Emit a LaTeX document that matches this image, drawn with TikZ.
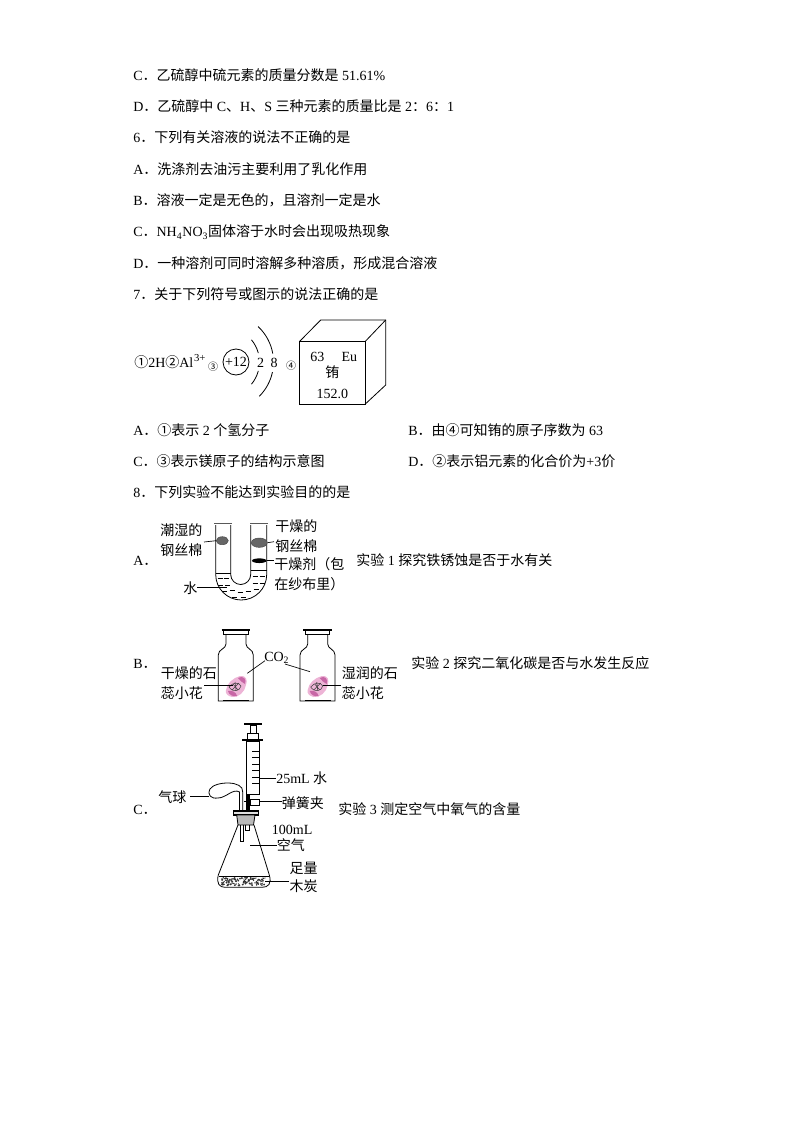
\documentclass[tikz,border=0pt]{standalone}
\usepackage{fontspec}
\setmainfont{Liberation Serif}
\newfontfamily\cjk{Noto Sans CJK SC}
\newcommand{\zh}[1]{{\cjk #1}}
\usetikzlibrary{shapes.geometric}
\definecolor{flowerpink}{HTML}{EDB4D6}
\definecolor{flowerdeep}{HTML}{C767A6}
\tikzset{
	txt/.style={anchor=base west,inner sep=0pt,font=\fontsize{10.5}{12}\selectfont},
	mid/.style={anchor=base,inner sep=0pt,font=\fontsize{10.5}{12}\selectfont},
	tiny/.style={anchor=center,inner sep=0pt,font=\fontsize{7.5}{8}\selectfont},
	leader/.style={draw=black,line width=0.5pt},
	glass/.style={draw=black,line width=0.6pt},
	lip/.style={line width=1.2pt,draw=gray!70!black},
	wool/.style={ellipse,fill=gray!80!black,draw=gray!60!black,inner sep=0pt}
}
\begin{document}
\begin{tikzpicture}[x=0.75pt,y=-0.75pt]
	\useasboundingbox (0,0) rectangle (794,1123);
	% text of the page
	\foreach \y/\nm/\txt in {
		81/lineC/{C\zh{．乙硫醇中硫元素的质量分数是} 51.61\%},
		112/lineD/{D\zh{．乙硫醇中} C\zh{、}H\zh{、}S \zh{三种元素的质量比是} 2\zh{：}6\zh{：}1},
		143/qsix/{6\zh{．下列有关溶液的说法不正确的是}},
		175/sixA/{A\zh{．洗涤剂去油污主要利用了乳化作用}},
		206/sixB/{B\zh{．溶液一定是无色的，且溶剂一定是水}},
		237/sixC/{C\zh{．}NH\textsubscript{4}NO\textsubscript{3}\zh{固体溶于水时会出现吸热现象}},
		268/sixD/{D\zh{．一种溶剂可同时溶解多种溶质，形成混合溶液}},
		299/qseven/{7\zh{．关于下列符号或图示的说法正确的是}},
		435/sevenA/{A\zh{．①表示} 2 \zh{个氢分子}},
		466/sevenC/{C\zh{．③表示镁原子的结构示意图}},
		497/qeight/{8\zh{．下列实验不能达到实验目的的是}},
		565/eightA/{A\zh{．}},
		668/eightB/{B\zh{．}},
		814/eightC/{C\zh{．}}}
	{
	\node[txt] (\nm) at (133,\y) {\txt};
	}
	\node[txt] (sevenB) at (408,435) {B\zh{．由④可知铕的原子序数为} 63};
	\node[txt] (sevenD) at (408,466) {D\zh{．②表示铝元素的化合价为}+3\zh{价}};
	\node[txt] (expone) at (356,565) {\zh{实验} 1 \zh{探究铁锈蚀是否于水有关}};
	\node[txt] (exptwo) at (411,668) {\zh{实验} 2 \zh{探究二氧化碳是否与水发生反应}};
	\node[txt] (expthree) at (338,814) {\zh{实验} 3 \zh{测定空气中氧气的含量}};
	% symbols of question 7
	\node[txt] (symbols) at (134,367) {\zh{①}2H\zh{②}Al\textsuperscript{\kern0.5pt\fontsize{8}{8}\selectfont 3+}};
	\node[tiny] (mthree) at (213,366.5) {\zh{③}};
	\node[draw,circle,inner sep=0pt,minimum width=19.5pt,line width=0.6pt,font=\fontsize{10.5}{12}\selectfont] (nucleus) at (236,362) {+12};
	\foreach \a/\b in {-40/-15,15/40}
	{
	\draw[glass] ([shift={(225,362)}]\a:34.5) arc[start angle=\a,end angle=\b,radius=34.5];
	}
	\foreach \a/\b in {-47/-10,12/45}
	{
	\draw[glass] ([shift={(225,362)}]\a:48.5) arc[start angle=\a,end angle=\b,radius=48.5];
	}
	\node[mid] (shelltwo) at (260.7,367) {2};
	\node[mid] (shelleight) at (274,367) {8};
	\node[tiny] (mfour) at (291,366) {\zh{④}};
	\draw[glass] (299.3,341.7) rectangle (365,404.3);
	\draw[glass] (299.3,341.7) -- (320.7,320) -- (385.7,320) -- (385.7,385) -- (365,404.3);
	\draw[glass] (365,341.7) -- (385.7,320);
	\node[mid] (atomno) at (317.3,361) {63};
	\node[mid] (atomsym) at (349.3,361) {Eu};
	\node[mid] (atomname) at (332.3,377) {\zh{铕}};
	\node[mid] (atommass) at (332.3,398) {152.0};
	% U tube
	\draw[glass] (215.7,525) -- (215.7,574.5) arc[start angle=180,end angle=0,radius=25.5] -- (266.7,525);
	\draw[glass] (230.7,525) -- (230.7,574.5) arc[start angle=180,end angle=0,radius=10] -- (250.7,525);
	\draw[lip] (214.3,523.5) -- (231.5,523.5);
	\draw[lip] (250,523.5) -- (267.5,523.5);
	\draw[glass] (215.7,573.3) -- (230.7,573.3);
	\draw[glass] (250.7,570.7) -- (266.7,570.7);
	\foreach \x/\y in {220/578,226/578,255/576,262/576,220/585,227/585,255/583,262/583,224/591,232/590,240/592,248/591,256/589,234/597,243/597}
	{
	\draw[glass] (\x-2.5,\y) -- (\x+2.5,\y);
	}
	\node[wool,minimum width=9pt,minimum height=6pt] (wetwool) at (222.3,540.7) {};
	\node[wool,minimum width=12pt,minimum height=7pt] (drywool) at (259.3,542.7) {};
	\node[ellipse,fill=black,inner sep=0pt,minimum width=11pt,minimum height=3.5pt] (desiccant) at (259.3,560.7) {};
	\node[txt] (awet) at (160,535) {\zh{潮湿的}};
	\node[txt] (awool) at (160,555) {\zh{钢丝棉}};
	\node[txt] (adry) at (275,531) {\zh{干燥的}};
	\node[txt] (adrywool) at (275,551) {\zh{钢丝棉}};
	\node[txt] (adesi) at (274,569) {\zh{干燥剂（包}};
	\node[txt] (acloth) at (274,589) {\zh{在纱布里）}};
	\node[txt] (awater) at (183,593) {\zh{水}};
	\coordinate (wetend) at (204,542);
	\coordinate (dryend) at (274,541.7);
	\coordinate (desiend) at (274,560.7);
	\coordinate (waterend) at (226.7,587.7);
	\coordinate (waterstart) at (197,587.7);
	\draw[leader] (wetend) -- (wetwool.west);
	\draw[leader] (drywool.east) -- (dryend);
	\draw[leader] (desiccant.east) -- (desiend);
	\draw[leader] (waterstart) -- (waterend);
	% gas bottles
	\foreach \dx/\nm in {0/bottleL,81.7/bottleR}
	{
	\begin{scope}[xshift=\dx*0.75pt]
	\draw[glass] (226,634) -- (226,644) .. controls (226,649) and (218.3,649) .. (218.3,655) -- (218.3,701) -- (253.3,701) -- (253.3,655) .. controls (253.3,649) and (246,649) .. (246,644) -- (246,634);
	\draw[line width=1.4pt] (221.7,630) -- (250,630);
	\draw[glass] (223.5,630) rectangle (248,634);
	\draw[line width=1.2pt] (223,700.5) -- (249,700.5);
	\fill[flowerpink] (226,690) .. controls (227,683) and (233,678) .. (240,676) .. controls (246,675) and (248,680) .. (246,685) .. controls (245,692) and (238,698) .. (232,697) .. controls (228,696) and (225,694) .. (226,690) -- cycle;
	\fill[flowerdeep] (238,678) .. controls (243,675) and (247,679) .. (245,684) .. controls (242,682) and (240,681) .. (238,678) -- cycle;
	\fill[flowerdeep] (228,691) .. controls (232,690) and (236,692) .. (237,696) .. controls (233,697) and (229,695) .. (228,691) -- cycle;
	\draw[black!75,line width=0.4pt] (229,687) .. controls (233,682) and (239,682) .. (241,686) .. controls (240,691) and (233,693) .. (229,687) -- cycle;
	\draw[black!75,line width=0.4pt] (232,690) -- (239,683) (233,684) -- (238,690) (235,682) -- (236,690);
	\end{scope}
	}
	\node[txt] (gasco) at (264,661) {CO\textsubscript{2}};
	\node[txt] (bdry) at (160.7,678) {\zh{干燥的石}};
	\node[txt] (bflowerL) at (160.7,698) {\zh{蕊小花}};
	\node[txt] (bwet) at (341.7,678) {\zh{湿润的石}};
	\node[txt] (bflowerR) at (341.7,698) {\zh{蕊小花}};
	\coordinate (gasL) at (247.3,673.3);
	\coordinate (gasLtop) at (265,660.7);
	\coordinate (gasR) at (310,671.7);
	\coordinate (gasRtop) at (285,664);
	\coordinate (flowerLa) at (204,685.3);
	\coordinate (flowerLb) at (233,685.3);
	\coordinate (flowerRa) at (323.3,685.3);
	\coordinate (flowerRb) at (340.7,685.3);
	\draw[leader] (gasL) -- (gasLtop);
	\draw[leader] (gasRtop) -- (gasR);
	\draw[leader] (flowerLa) -- (flowerLb);
	\draw[leader] (flowerRa) -- (flowerRb);
	% syringe
	\draw[line width=1.6pt] (244.3,724.3) -- (262.3,724.3);
	\draw[glass] (250,725) rectangle (256.7,733);
	\draw[glass] (247.7,733) rectangle (258.3,739);
	\draw[line width=1.6pt] (242.3,740) -- (262.7,740);
	\draw[glass] (246,741) rectangle (259.3,794);
	\foreach \y in {751,757.5,764,770.5,777,783.5}
	{
	\draw[leader] (252,\y) -- (259.3,\y);
	}
	\draw[line width=3pt] (248,794) -- (248,812);
	\draw[glass] (250,799) rectangle (259.3,805);
	\draw[leader] (244,801.7) -- (250,801.7);
	% balloon and its tube
	\draw[glass] (239.5,812) -- (239.5,792) .. controls (233,788) and (226,798) .. (218,798) .. controls (211,799) and (207,795) .. (210,789) .. controls (215,781) and (244,780) .. (242.7,792) -- (242.7,812);
	\coordinate (ballooneast) at (209.3,796);
	\coordinate (labelballoon) at (190,796);
	\coordinate (syringeeast) at (259.3,778.3);
	\coordinate (clipeast) at (259.3,801.7);
	\node[txt] (lwater) at (276,783) {25mL \zh{水}};
	\node[txt] (lclip) at (281.7,808) {\zh{弹簧夹}};
	\node[txt] (lballoon) at (158,802) {\zh{气球}};
	\draw[leader] (labelballoon) -- (ballooneast);
	\draw[leader] (syringeeast) -- (lwater.west |- syringeeast);
	\draw[leader] (clipeast) -- (lclip.west |- clipeast);
	% flask
	\draw[line width=1.2pt,fill=gray!25] (233.3,810.7) rectangle (258.3,815);
	\draw[glass,fill=gray!55] (236.7,815) -- (255,815) -- (253.5,825) -- (238,825) -- cycle;
	\draw[glass] (240.7,825) -- (240.7,841.7) -- (243.3,841.7) -- (243.3,825);
	\draw[glass] (245,825) -- (245,830.7) -- (249,830.7) -- (249,825);
	\draw[glass] (238,825) -- (218.3,875) .. controls (216,884) and (220,887.3) .. (225,887.3) -- (262,887.3) .. controls (268,887.3) and (272,884) .. (269.3,875) -- (254,825);
	\draw[leader] (219,876) -- (269,876);
	\pgfmathsetseed{17}
	\foreach \i in {1,...,130}
	{
	\pgfmathsetmacro{\dotx}{221+44*rnd}
	\pgfmathsetmacro{\doty}{877.5+8*rnd}
	\pgfmathsetmacro{\dotr}{0.5+0.6*rnd}
	\fill[black!80] (\dotx,\doty) circle[radius=\dotr];
	}
	\node[txt] (lflask) at (271.7,834) {100mL};
	\node[txt] (lair) at (276.7,850) {\zh{空气}};
	\node[txt] (lenough) at (289.3,873) {\zh{足量}};
	\node[txt] (lcoal) at (289.3,891) {\zh{木炭}};
	\coordinate (airin) at (250,845);
	\coordinate (coalin) at (265,881);
	\draw[leader] (airin) -- (lair.west |- airin);
	\draw[leader] (coalin) -- (lcoal.west |- coalin);
\end{tikzpicture}
\end{document}
